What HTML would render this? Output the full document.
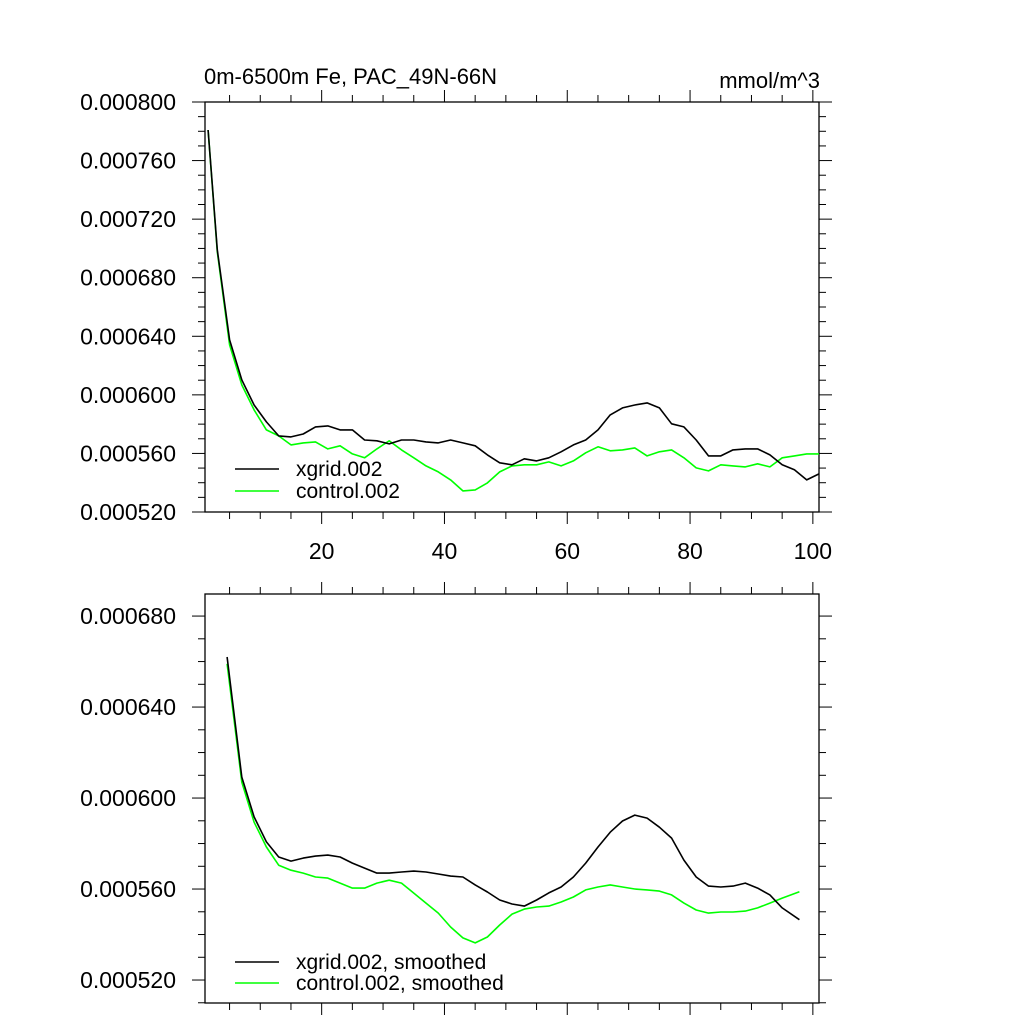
<!DOCTYPE html>
<html><head><meta charset="utf-8"><style>
html,body{margin:0;padding:0;background:#fff;}
svg{display:block;font-family:"Liberation Sans",sans-serif;}
</style></head><body>
<svg id="chart" width="1024" height="1024" viewBox="0 0 1024 1024" xmlns="http://www.w3.org/2000/svg">
<g id="top"></g>
<g id="bot"></g>
</svg>
<script>
// values in units of 1e-6 mmol/m^3
const topX = [1.5,3,5,7,9,11,13,15,17,19,21,23,25,27,29,31,33,35,37,39,41,43,45,47,49,51,53,55,57,59,61,63,65,67,69,71,73,75,77,79,81,83,85,87,89,91,93,95,97,99,101];
const topXgrid = [780.9,699.0,637.5,610.2,593.1,581.5,572.0,571.3,573.3,578.1,578.8,576.1,576.1,569.2,568.6,566.5,569.2,569.2,567.9,567.2,569.2,567.2,565.2,559.0,553.6,552.2,556.3,554.9,557.0,561.1,565.8,569.2,576.1,586.3,591.1,593.1,594.5,591.1,580.2,578.1,569.2,558.3,558.3,562.4,563.1,563.1,559.0,552.2,548.8,541.9,546.0];
const topControl = [780.9,697.6,634.1,606.8,589.7,576.1,572.0,565.8,567.2,567.9,563.1,565.2,559.7,557.0,563.1,568.6,562.4,557.0,551.5,547.4,541.9,534.4,535.1,539.9,547.4,551.5,552.2,552.2,554.2,551.5,554.9,560.4,564.5,561.8,562.4,563.8,558.3,561.1,562.4,557.0,550.1,548.1,552.2,551.5,550.8,552.9,550.8,557.0,558.3,559.7,559.7];
const botX = [4.6,7,9,11,13,15,17,19,21,23,25,27,29,31,33,35,37,39,41,43,45,47,49,51,53,55,57,59,61,63,65,67,69,71,73,75,77,79,81,83,85,87,89,91,93,95,97.8];
const botXgrid = [662.0,609.2,591.7,580.7,574.1,572.3,573.6,574.5,574.9,574.1,571.4,569.2,567.0,567.0,567.5,567.9,567.5,566.6,565.7,565.3,561.8,558.7,555.2,553.4,552.5,555.2,558.3,560.9,565.3,571.4,578.5,585.0,589.9,592.5,591.2,587.2,582.4,572.7,565.3,561.3,560.9,561.3,562.6,560.4,557.4,551.7,546.5];
const botControl = [659.0,607.0,589.4,578.5,570.5,568.3,567.0,565.3,564.8,562.6,560.4,560.4,562.6,563.9,562.6,558.2,553.8,549.4,543.3,538.5,536.3,538.9,544.2,549.0,551.2,552.1,552.5,554.3,556.5,559.6,560.9,561.8,560.9,560.0,559.6,559.1,557.4,553.8,550.8,549.4,549.9,549.9,550.3,551.7,553.8,556.0,558.8];
const topYTicks = [520,560,600,640,680,720,760,800];
const topYLabels = ["0.000520","0.000560","0.000600","0.000640","0.000680","0.000720","0.000760","0.000800"];
const botYTicks = [520,560,600,640,680];
const botYLabels = ["0.000520","0.000560","0.000600","0.000640","0.000680"];
const xTicks = [20,40,60,80,100];
const xLabels = ["20","40","60","80","100"];

const NS = "http://www.w3.org/2000/svg";
function mk(parent, tag, attrs){const e=document.createElementNS(NS,tag);for(const k in attrs)e.setAttribute(k,attrs[k]);parent.appendChild(e);return e;}

function panel(g, cfg){
  const L=205,R=819,T=cfg.top,B=cfg.bottom;
  const sx=v=>L+(v-1)/(101-1)*(R-L);
  const sy=v=>B-(v-cfg.ymin)/(cfg.ymax-cfg.ymin)*(B-T);
  const frame=mk(g,'rect',{x:L,y:T,width:R-L,height:B-T,fill:'none',stroke:'#000','stroke-width':1.3});
  
  
  for(let v=Math.ceil(cfg.ymin/10)*10; v<=cfg.ymax; v+=10){
    const y=sy(v); const major=(v%40===0);
    const len=major?13:7;
    const t1=mk(g,'line',{x1:L-len,y1:y,x2:L,y2:y,stroke:'#000','stroke-width':1});
    
    
    const t2=mk(g,'line',{x1:R,y1:y,x2:R+len,y2:y,stroke:'#000','stroke-width':1});
    
    
  }
  for(let v=5; v<=100; v+=5){
    const x=sx(v); const major=(v%20===0); const len=major?12:7;
    const a=mk(g,'line',{x1:x,y1:T-len,x2:x,y2:T,stroke:'#000','stroke-width':1});
    
    
    const b=mk(g,'line',{x1:x,y1:B,x2:x,y2:B+len,stroke:'#000','stroke-width':1});
    
    
  }
  cfg.yTicks.forEach((v,i)=>{
    const t=mk(g,'text',{x:176,y:sy(v)+8,'text-anchor':'end','font-size':23,fill:'#000'});
    t.textContent=cfg.yLabels[i];
    
    
  });
  if(cfg.xlabels){
    xTicks.forEach((v,i)=>{
      const t=mk(g,'text',{x:sx(v),y:B+47,'text-anchor':'middle','font-size':23,fill:'#000'});
      t.textContent=xLabels[i];
      
      
    });
  }
  const line=(xs,ys,color,name)=>{
    const d=xs.map((x,i)=>(i?'L':'M')+sx(x).toFixed(1)+','+sy(ys[i]).toFixed(1)).join(' ');
    const p=mk(g,'path',{d:d,fill:'none',stroke:color,'stroke-width':1.6,'stroke-linejoin':'round'});
    
    
  };
  line(cfg.x,cfg.s2,'#00ff00',cfg.name+'-control-line');
  line(cfg.x,cfg.s1,'#000000',cfg.name+'-xgrid-line');
  [[cfg.leg[0],'#000',cfg.legY[0]],[cfg.leg[1],'#00ff00',cfg.legY[1]]].forEach(([txt,c,y])=>{
    const l=mk(g,'line',{x1:235,y1:y,x2:279,y2:y,stroke:c,'stroke-width':1.6});
    
    
    const t=mk(g,'text',{x:296,y:y+7,'font-size':21,fill:'#000'});
    t.textContent=txt;
    
    
  });
}
const topG=document.getElementById('top');
panel(topG,{name:'top',top:102,bottom:512,ymin:520,ymax:800,yTicks:topYTicks,yLabels:topYLabels,xlabels:true,
  x:topX,s1:topXgrid,s2:topControl,leg:['xgrid.002','control.002'],legY:[469,491]});
const botG=document.getElementById('bot');
panel(botG,{name:'bottom',top:594,bottom:1003,ymin:509.9,ymax:689.7,yTicks:botYTicks,yLabels:botYLabels,xlabels:false,
  x:botX,s1:botXgrid,s2:botControl,leg:['xgrid.002, smoothed','control.002, smoothed'],legY:[962,983]});
const title=mk(topG,'text',{x:204,y:84,'font-size':22,fill:'#000'});
title.textContent='0m-6500m Fe, PAC_49N-66N';


const units=mk(topG,'text',{x:820,y:88,'text-anchor':'end','font-size':22,fill:'#000'});
units.textContent='mmol/m^3';


</script>
</body></html>
